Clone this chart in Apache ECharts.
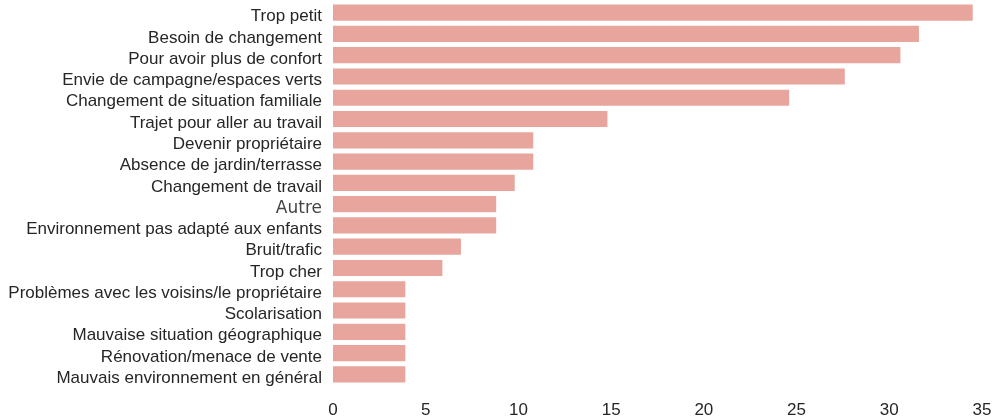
<!DOCTYPE html>
<html>
<head>
<meta charset="utf-8">
<script src="https://cdn.jsdelivr.net/npm/echarts@6/dist/echarts.min.js"></script>
<style>
  html, body { margin: 0; padding: 0; background: #fff; }
  #chart { width: 996px; height: 419px; }
</style>
</head>
<body>
<div id="chart"></div>
<script>
// Reasons for moving, share of respondents (%), top to bottom
const categories = [
  "Trop petit",
  "Besoin de changement",
  "Pour avoir plus de confort",
  "Envie de campagne/espaces verts",
  "Changement de situation familiale",
  "Trajet pour aller au travail",
  "Devenir propriétaire",
  "Absence de jardin/terrasse",
  "Changement de travail",
  "Autre",
  "Environnement pas adapté aux enfants",
  "Bruit/trafic",
  "Trop cher",
  "Problèmes avec les voisins/le propriétaire",
  "Scolarisation",
  "Mauvaise situation géographique",
  "Rénovation/menace de vente",
  "Mauvais environnement en général"
];
const values = [34.5, 31.6, 30.6, 27.6, 24.6, 14.8, 10.8, 10.8, 9.8, 8.8, 8.8, 6.9, 5.9, 3.9, 3.9, 3.9, 3.9, 3.9];
const xTicks = [0, 5, 10, 15, 20, 25, 30, 35];

const chart = echarts.init(document.getElementById('chart'), null, { renderer: 'canvas' });
chart.setOption({
  animation: false,
  backgroundColor: '#ffffff',
  grid: { left: 333, right: 14, top: 2, bottom: 34, containLabel: false },
  xAxis: {
    type: 'value',
    min: xTicks[0],
    max: xTicks[xTicks.length - 1],
    interval: 5,
    axisLine: { show: false },
    axisTick: { show: false },
    splitLine: { show: false },
    axisLabel: {
      margin: 17,
      color: '#262626',
      fontFamily: 'Liberation Sans, Arial, sans-serif',
      fontSize: 17
    }
  },
  yAxis: {
    type: 'category',
    inverse: true,
    data: categories,
    axisLine: { show: false },
    axisTick: { show: false },
    splitLine: { show: false },
    axisLabel: {
      interval: 0,
      margin: 11,
      padding: [8, 0, 0, 0],
      color: '#262626',
      fontFamily: 'Liberation Sans, Arial, sans-serif',
      fontSize: 17,
      formatter: function (v) {
        return v === 'Autre' ? '{alt|' + v + '}' : v;
      },
      rich: {
        alt: {
          fontFamily: 'DejaVu Sans, sans-serif',
          fontSize: 17,
          color: '#444444'
        }
      }
    }
  },
  series: [{
    type: 'bar',
    data: values,
    barCategoryGap: '24%',
    itemStyle: { color: '#e8a59d' }
  }]
});
</script>
</body>
</html>
